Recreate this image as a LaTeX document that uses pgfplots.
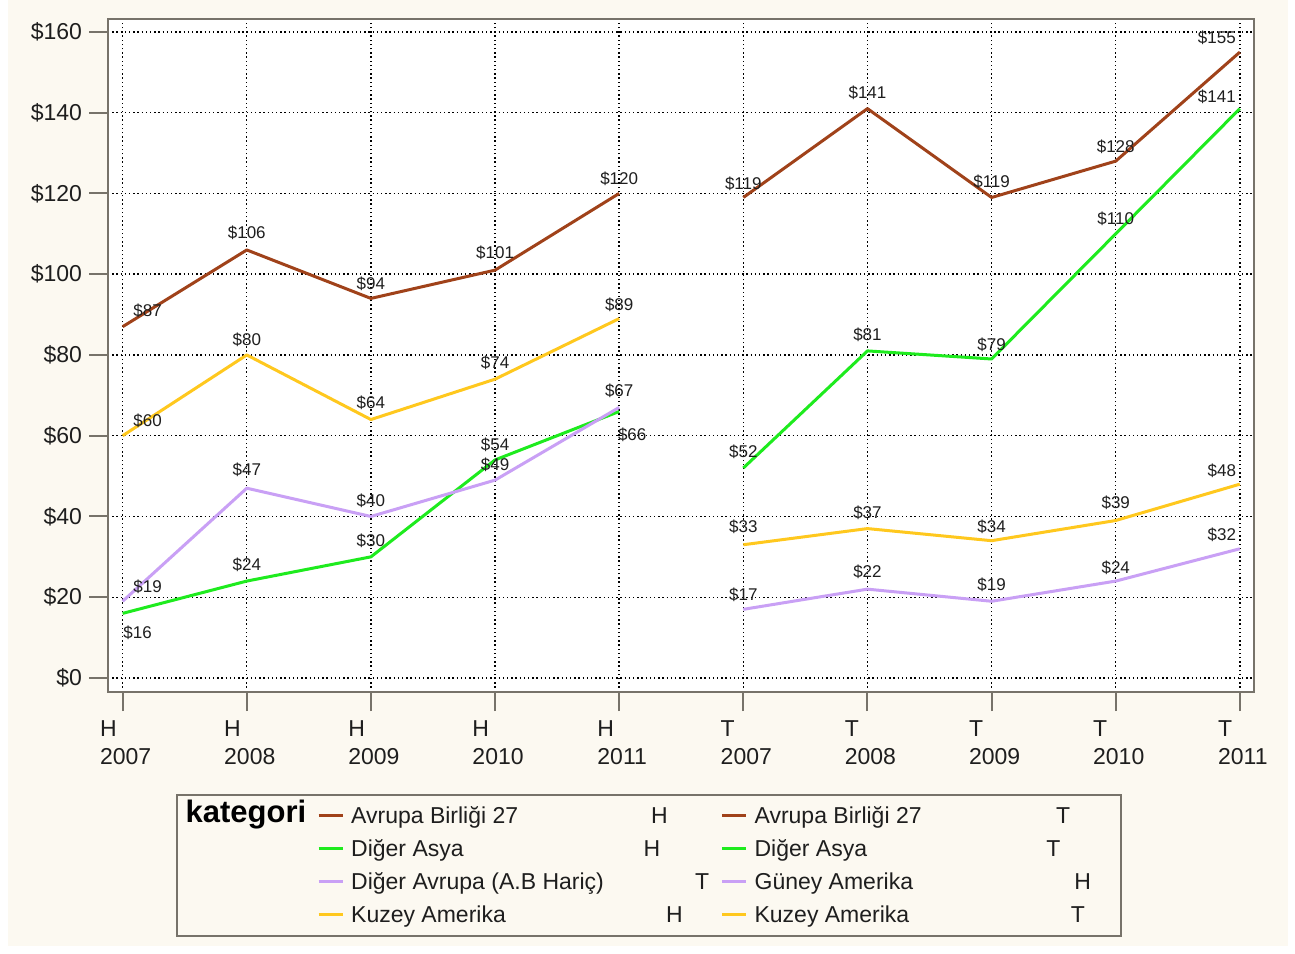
\documentclass[border=0pt]{standalone}
\usepackage{fontspec}
\setmainfont{Liberation Sans}
\usepackage{pgfplots}
\pgfplotsset{compat=1.18}

\definecolor{bgbeige}{HTML}{FCF9F1}
\definecolor{framegray}{HTML}{77736A}
\definecolor{ab}{HTML}{A0421A}
\definecolor{da}{HTML}{1EEB1E}
\definecolor{pu}{HTML}{C9A0F5}
\definecolor{ka}{HTML}{FFC81E}
\definecolor{txt}{HTML}{1E1E1E}

\begin{document}
\begin{tikzpicture}
% canvas: 1 px of the reference = 0.5pt
\fill[white] (0pt,0pt) rectangle (647.5pt,476.5pt);
\fill[bgbeige] (4pt,3.5pt) rectangle (644pt,476.5pt);

\begin{axis}[
    at={(54pt,130.5pt)}, anchor=south west,
    width=573pt, height=336.5pt, scale only axis,
    xmin=-0.118, xmax=9.114, ymin=-3.47, ymax=163.2,
    axis background/.style={fill=white},
    axis line style={framegray, line width=1pt},
    tick pos=left, tick align=outside, major tick length=9.5pt,
    tick style={framegray, line width=1pt},
    xtick={0,...,9},
    xticklabels={{H\\2007},{H\\2008},{H\\2009},{H\\2010},{H\\2011},
                  {T\\2007},{T\\2008},{T\\2009},{T\\2010},{T\\2011}},
    ytick={0,20,...,160},
    yticklabel={\$\pgfmathprintnumber{\tick}},
    /pgf/number format/assume math mode=true,
    ticklabel style={font=\fontsize{11.5}{13.6}\selectfont, text=txt},
    xticklabel style={align=left, xshift=1.5pt, yshift=-1.5pt},
    grid=major,
    grid style={black, line width=0.7pt, dash pattern=on 0.7pt off 1.4pt},
    no markers,
    every axis plot/.append style={line width=1.5pt, line join=round},
    clip=false,
    point meta=y,
    nodes near coords={\$\pgfmathprintnumber{\pgfplotspointmeta}},
    visualization depends on={value \thisrow{dx}\as\mydx},
    visualization depends on={value \thisrow{dy}\as\mydy},
    every node near coord/.append style={font=\fontsize{8.5}{10}\selectfont,
        text=txt, anchor=center, inner sep=0pt, xshift=\mydx pt, yshift=\mydy pt},
    legend columns=2,
    legend cell align=left,
    legend style={at={(axis description cs:0.18220,-0.16939)}, anchor=north west,
        draw=none, fill=none, inner sep=0pt, column sep=0pt, row sep=5.5pt,
        font=\fontsize{11.5}{13.6}\selectfont,
        nodes={inner sep=0pt, text height=8.5pt, text depth=2.5pt, text=txt}},
    legend image code/.code={\draw[#1, line width=1.5pt] (0pt,1pt) -- (12pt,1pt); \path (15.5pt,0pt);},
]
% H segment + T segment, one table per series
\addplot[ab] table[row sep=\\] {x y dx dy\\ 0 87 12.5 8\\ 1 106 0 8.5\\ 2 94 0 7.5\\ 3 101 0 8.5\\ 4 120 0 7.5\\};
\addlegendentry{\makebox[184.7pt][l]{\makebox[150pt][l]{Avrupa Birliği 27}H}}
\addplot[ab] table[row sep=\\] {x y dx dy\\ 5 119 0 7\\ 6 141 0 8\\ 7 119 0 8\\ 8 128 0 7\\ 9 155 -11.5 7\\};
\addlegendentry{\makebox[150.8pt][l]{Avrupa Birliği 27}T}
\addplot[da] table[row sep=\\] {x y dx dy\\ 0 16 7.5 -9.5\\ 1 24 0 8\\ 2 30 0 8\\ 3 54 0 7.5\\ 4 66 6.5 -11.5\\};
\addlegendentry{\makebox[184.7pt][l]{\makebox[146.2pt][l]{Diğer Asya}H}}
\addplot[da] table[row sep=\\] {x y dx dy\\ 5 52 0 8\\ 6 81 0 8\\ 7 79 0 7\\ 8 110 0 7.5\\ 9 141 -11.5 6\\};
\addlegendentry{\makebox[145.9pt][l]{Diğer Asya}T}
\addplot[pu] table[row sep=\\] {x y dx dy\\ 5 17 0 7.5\\ 6 22 0 8.5\\ 7 19 0 8\\ 8 24 0 6.5\\ 9 32 -9 7\\};
\addlegendentry{\makebox[184.7pt][l]{\makebox[172pt][l]{Diğer Avrupa (A.B Hariç)}T}}
\addplot[pu] table[row sep=\\] {x y dx dy\\ 0 19 12.5 7\\ 1 47 0 9\\ 2 40 0 8\\ 3 49 0 7.5\\ 4 67 0 8.5\\};
\addlegendentry{\makebox[159.9pt][l]{Güney Amerika}H}
\addplot[ka] table[row sep=\\] {x y dx dy\\ 0 60 12.5 7.5\\ 1 80 0 7.5\\ 2 64 0 8.5\\ 3 74 0 8\\ 4 89 0 7\\};
\addlegendentry{\makebox[184.7pt][l]{\makebox[157.5pt][l]{Kuzey Amerika}H}}
\addplot[ka] table[row sep=\\] {x y dx dy\\ 5 33 0 9\\ 6 37 0 8\\ 7 34 0 7\\ 8 39 0 9\\ 9 48 -9 6.5\\};
\addlegendentry{\makebox[158.1pt][l]{Kuzey Amerika}T}
\end{axis}

% legend frame and title
\draw[framegray, line width=0.8pt] (88.5pt,8.5pt) rectangle (560.5pt,79pt);
\node[anchor=base west, inner sep=0pt, font=\fontsize{15.5}{18}\selectfont\bfseries, text=black]
    at (92.65pt,65pt) {kategori};
\end{tikzpicture}
\end{document}
